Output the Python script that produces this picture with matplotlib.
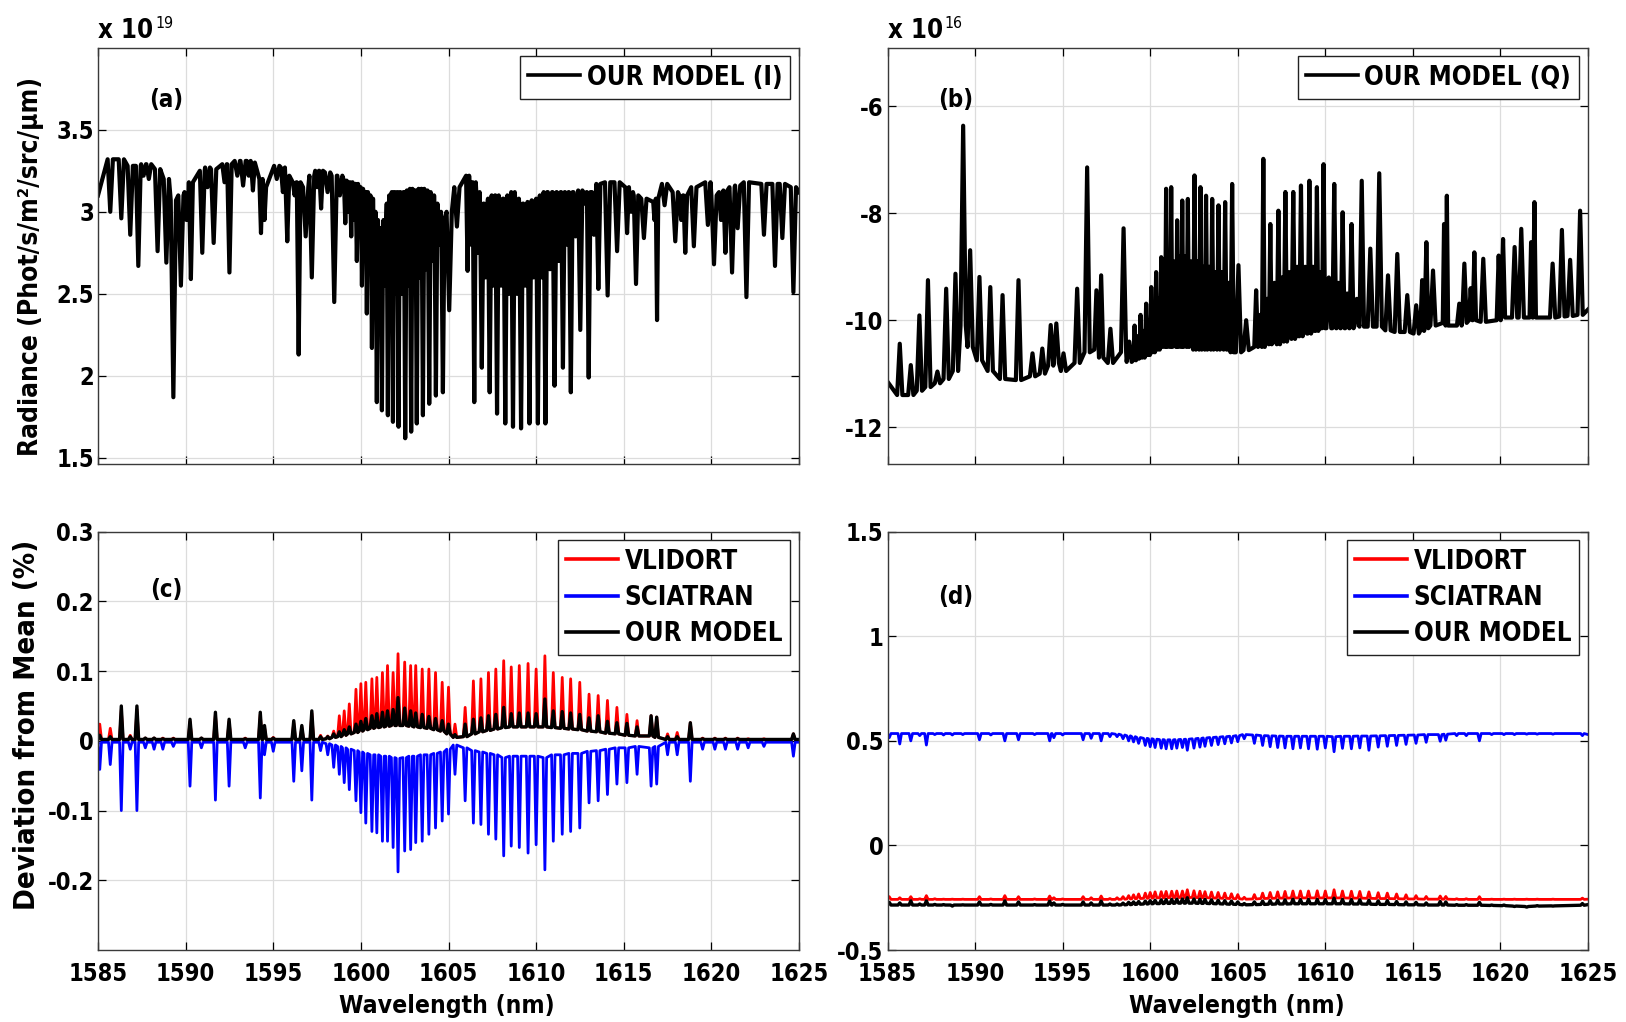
import matplotlib
matplotlib.use("Agg")
import matplotlib.pyplot as plt
from matplotlib import font_manager as fm
from matplotlib.font_manager import FontProperties

# ---------- font choice: a narrow bold sans like the original ----------
_names = {f.name for f in fm.fontManager.ttflist}
_cond = [f for f in fm.fontManager.ttflist
         if f.name == "DejaVu Sans" and "condensed" in str(f.stretch)]
if "Liberation Sans Narrow" in _names:
    FAM, STRETCH = "Liberation Sans Narrow", "normal"
elif _cond:
    FAM, STRETCH = "DejaVu Sans", "condensed"
elif "Liberation Sans" in _names:
    FAM, STRETCH = "Liberation Sans", "normal"
else:
    FAM, STRETCH = "DejaVu Sans", "normal"

plt.rcParams.update({
    "font.family": [FAM, "DejaVu Sans"],
    "font.stretch": STRETCH,
    "font.weight": "bold",
    "axes.labelweight": "bold",
})

# ---------------- data ----------------
WL_TICKS = [1585, 1590, 1595, 1600, 1605, 1610, 1615, 1620, 1625]

# Panel (a): radiance I (x 1e19); absorption lines: centre, minimum, local continuum
A_WL = [1585.70, 1586.33, 1586.84, 1587.30, 1587.60, 1587.90, 1588.40, 1588.90, 1589.30, 1589.73,
        1590.05, 1590.30, 1590.95, 1591.25, 1591.60, 1592.22, 1592.50, 1592.95, 1593.28, 1593.60,
        1593.84, 1594.30, 1594.50, 1595.20, 1595.55, 1595.80, 1596.22, 1596.45, 1596.85, 1597.20,
        1597.50, 1597.73, 1598.10, 1598.48,
        1598.80, 1599.11, 1599.28, 1599.45, 1599.61, 1599.77, 1599.92, 1600.06, 1600.20, 1600.34,
        1600.48, 1600.63, 1600.77, 1600.91, 1601.05, 1601.20, 1601.37, 1601.54, 1601.68, 1601.83,
        1601.99, 1602.15, 1602.34, 1602.53, 1602.70, 1602.87, 1603.03, 1603.19, 1603.37, 1603.54,
        1603.72, 1603.90, 1604.09, 1604.28, 1604.48, 1604.68, 1605.04, 1605.48,
        1606.09, 1606.28, 1606.47, 1606.68, 1606.90, 1607.12, 1607.35, 1607.56, 1607.77, 1608.00,
        1608.24, 1608.46, 1608.68, 1608.91, 1609.14, 1609.38, 1609.62, 1609.86, 1610.10, 1610.31,
        1610.53, 1610.79, 1611.05, 1611.29, 1611.53, 1611.75, 1611.98, 1612.25, 1612.52, 1612.78,
        1613.00, 1613.30, 1613.55, 1614.08, 1614.62, 1615.19, 1615.42, 1615.70, 1616.15, 1616.75,
        1616.90, 1617.33, 1617.94, 1618.28, 1618.51, 1619.00, 1619.80, 1620.15, 1620.55, 1620.80,
        1621.18, 1621.50, 1622.00, 1623.00, 1623.63, 1624.05, 1624.68]
A_MIN = [3.00, 2.96, 2.86, 2.67, 3.22, 3.20, 2.76, 2.69, 1.87, 2.55,
         2.95, 2.59, 2.75, 3.15, 2.81, 3.18, 2.63, 3.22, 3.16, 3.22,
         3.13, 2.87, 2.95, 3.20, 3.12, 2.82, 3.10, 2.13, 2.85, 2.60,
         3.15, 3.02, 3.12, 2.45,
         3.10, 2.93, 3.00, 2.85, 2.95, 2.70, 2.90, 2.55, 2.80, 2.38,
         2.75, 2.17, 2.70, 1.84, 2.60, 1.79, 2.55, 1.76, 2.55, 1.72,
         2.50, 1.69, 2.50, 1.62, 2.55, 1.66, 2.60, 1.71, 2.60, 1.76,
         2.65, 1.83, 2.70, 1.88, 2.80, 1.90, 2.40, 2.91,
         2.64, 2.80, 1.84, 2.75, 2.05, 2.60, 1.90, 2.55, 1.77, 2.55,
         1.71, 2.50, 1.69, 2.50, 1.68, 2.55, 1.71, 2.60, 1.71, 2.60,
         1.71, 2.65, 1.94, 2.70, 2.05, 2.80, 1.90, 2.85, 2.28, 3.05,
         1.99, 2.86, 2.53, 2.49, 2.76, 2.87, 3.00, 2.56, 2.84, 2.95,
         2.34, 3.04, 2.82, 2.95, 2.75, 2.79, 2.92, 2.68, 2.95, 2.75,
         2.63, 2.90, 2.48, 2.86, 2.67, 2.84, 2.51]
A_BASE = [3.32, 3.32, 3.28, 3.28, 3.29, 3.29, 3.26, 3.20, 3.07, 3.10,
          3.12, 3.18, 3.25, 3.27, 3.26, 3.29, 3.29, 3.31, 3.31, 3.31,
          3.30, 3.20, 3.15, 3.28, 3.27, 3.22, 3.18, 3.18, 3.15, 3.22,
          3.25, 3.25, 3.24, 3.22,
          3.22, 3.19, 3.18, 3.18, 3.17, 3.17, 3.15, 3.14, 3.12, 3.12,
          3.10, 3.08, 3.00, 2.95, 2.90, 2.90, 2.95, 3.05, 3.10, 3.12,
          3.12, 3.12, 3.12, 3.12, 3.13, 3.14, 3.13, 3.13, 3.14, 3.14,
          3.13, 3.12, 3.10, 3.05, 3.00, 2.95, 3.00, 3.15,
          3.22, 3.18, 3.18, 3.12, 3.05, 3.05, 3.08, 3.10, 3.10, 3.08,
          3.08, 3.10, 3.12, 3.08, 3.05, 3.05, 3.06, 3.07, 3.08, 3.10,
          3.12, 3.12, 3.12, 3.12, 3.12, 3.12, 3.12, 3.12, 3.13, 3.12,
          3.12, 3.12, 3.17, 3.18, 3.18, 3.15, 3.12, 3.10, 3.08, 3.06,
          3.08, 3.17, 3.12, 3.10, 3.10, 3.15, 3.18, 3.10, 3.12, 3.13,
          3.15, 3.16, 3.18, 3.17, 3.17, 3.17, 3.15]
A_START = (1585.0, 3.10)
A_END = (1625.0, 3.12)

# Panel (b): Q (x 1e16); lines: centre, peak, local continuum
B_WL = [1585.70, 1586.33, 1586.82, 1587.31, 1587.85, 1588.35, 1588.88, 1589.32, 1589.72, 1590.25,
        1590.87, 1591.57, 1592.48, 1593.28, 1593.84, 1594.32, 1594.64, 1595.05, 1595.83, 1596.40,
        1596.93, 1597.20, 1597.73, 1598.48,
        1598.80, 1599.11, 1599.28, 1599.45, 1599.61, 1599.77, 1599.92, 1600.06, 1600.20, 1600.34,
        1600.48, 1600.63, 1600.77, 1600.91, 1601.05, 1601.20, 1601.37, 1601.54, 1601.68, 1601.83,
        1601.99, 1602.15, 1602.34, 1602.53, 1602.70, 1602.87, 1603.03, 1603.19, 1603.37, 1603.54,
        1603.72, 1603.90, 1604.09, 1604.28, 1604.48, 1604.68, 1605.04, 1605.48,
        1606.05, 1606.28, 1606.46, 1606.68, 1606.86, 1607.10, 1607.32, 1607.52, 1607.72, 1607.95,
        1608.17, 1608.40, 1608.61, 1608.85, 1609.09, 1609.30, 1609.52, 1609.70, 1609.90, 1610.20,
        1610.51, 1610.75, 1610.99, 1611.25, 1611.50, 1611.80, 1612.08, 1612.57, 1613.08, 1613.58,
        1614.11, 1614.68, 1615.19, 1615.53, 1615.77, 1616.15, 1616.78, 1616.94, 1617.65, 1617.94,
        1618.30, 1618.51, 1619.02, 1619.90, 1620.15, 1620.81, 1621.19, 1621.75, 1621.94, 1622.98,
        1623.51, 1623.98, 1624.55]
B_PEAK = [-10.44, -10.84, -9.91, -9.25, -10.96, -9.41, -9.13, -6.36, -8.69, -9.19,
          -9.38, -9.53, -9.25, -10.62, -10.53, -10.09, -10.06, -10.62, -9.41, -7.14,
          -9.44, -9.16, -10.16, -8.28,
          -10.40, -10.10, -10.30, -9.90, -10.20, -9.69, -10.00, -9.38, -9.80, -9.10,
          -9.60, -8.82, -9.20, -7.54, -9.00, -7.51, -8.90, -8.13, -8.80, -7.76,
          -8.80, -7.73, -8.90, -7.29, -8.90, -7.51, -9.00, -7.67, -9.00, -7.73,
          -9.10, -7.85, -9.10, -7.79, -9.30, -7.45, -8.97, -10.00,
          -9.44, -9.90, -6.98, -9.60, -8.20, -9.30, -7.95, -9.20, -7.60, -9.10,
          -7.60, -9.00, -7.48, -9.00, -7.39, -9.00, -7.51, -9.10, -7.08, -9.20,
          -7.45, -9.30, -7.98, -9.50, -8.20, -9.60, -7.39, -8.66, -7.25, -9.16,
          -8.76, -9.53, -9.72, -9.25, -8.54, -9.07, -8.20, -7.67, -9.69, -8.94,
          -9.40, -8.73, -8.85, -8.79, -8.48, -8.63, -8.29, -8.54, -7.79, -8.94,
          -8.31, -8.87, -7.95]
B_BASE = [-11.40, -11.40, -11.32, -11.25, -11.18, -11.10, -10.95, -10.10, -10.50, -10.75,
          -10.95, -11.10, -11.12, -11.05, -11.00, -10.85, -10.80, -10.95, -10.80, -10.60,
          -10.55, -10.70, -10.80, -10.60,
          -10.78, -10.75, -10.72, -10.70, -10.70, -10.65, -10.65, -10.60, -10.60, -10.55,
          -10.55, -10.50, -10.45, -10.50, -10.40, -10.50, -10.40, -10.50, -10.40, -10.50,
          -10.45, -10.50, -10.45, -10.55, -10.50, -10.55, -10.50, -10.55, -10.50, -10.55,
          -10.50, -10.55, -10.50, -10.55, -10.55, -10.60, -10.60, -10.56,
          -10.50, -10.45, -10.50, -10.40, -10.45, -10.40, -10.45, -10.35, -10.40, -10.30,
          -10.35, -10.30, -10.30, -10.25, -10.25, -10.20, -10.20, -10.15, -10.15, -10.15,
          -10.15, -10.15, -10.15, -10.15, -10.15, -10.10, -10.12, -10.12, -10.12, -10.19,
          -10.22, -10.22, -10.25, -10.20, -10.15, -10.10, -10.05, -10.10, -10.10, -10.05,
          -10.00, -10.00, -10.03, -10.00, -9.95, -9.95, -9.95, -9.95, -9.95, -9.95,
          -9.93, -9.92, -9.90]
B_START = (1585.0, -11.15)
B_END = (1625.0, -9.80)

# Panels (c) and (d): common line positions
CD_WL = [1585.10, 1585.70, 1586.33, 1586.84, 1587.22, 1587.70, 1588.20, 1588.70, 1589.30, 1590.25,
         1590.90, 1591.70, 1592.48, 1593.40, 1594.26, 1594.50, 1595.00, 1596.17, 1596.63, 1597.20, 1597.70,
         1598.11, 1598.45, 1598.77, 1599.05, 1599.34, 1599.72, 1600.00, 1600.28, 1600.63, 1600.91,
         1601.23, 1601.52, 1601.84, 1602.12, 1602.50, 1602.84, 1603.13, 1603.50, 1603.88, 1604.26,
         1604.64, 1605.00, 1605.37,
         1605.95, 1606.42, 1606.85, 1607.28, 1607.70, 1608.15, 1608.58, 1609.04, 1609.54, 1610.00,
         1610.50, 1610.98, 1611.49, 1611.97, 1612.49, 1613.02, 1613.54, 1614.07, 1614.61, 1615.18,
         1615.76, 1616.56, 1616.88,
         1617.50, 1618.05, 1618.80, 1619.50, 1620.20, 1620.80, 1621.50, 1622.10, 1623.00, 1624.68]

# (c) deviation of I from the mean (%)
C_RED = [0.024, 0.018, 0.045, 0.008, 0.045, 0.004, 0.004, 0.004, 0.004, 0.028,
         0.004, 0.038, 0.028, 0.004, 0.038, 0.020, 0.005, 0.026, 0.020, 0.040, 0.008,
         0.007, 0.014, 0.036, 0.043, 0.053, 0.074, 0.082, 0.084, 0.089, 0.091,
         0.098, 0.108, 0.098, 0.125, 0.113, 0.108, 0.108, 0.103, 0.103, 0.098,
         0.084, 0.077, 0.024,
         0.048, 0.086, 0.089, 0.098, 0.103, 0.115, 0.106, 0.108, 0.111, 0.103,
         0.122, 0.098, 0.091, 0.089, 0.084, 0.067, 0.065, 0.058, 0.048, 0.038,
         0.029, 0.036, 0.034,
         0.010, 0.012, 0.026, 0.004, 0.004, 0.004, 0.004, 0.003, 0.003, 0.010]
C_RED_BASE = [0.002] * 21 + [
         0.003, 0.005, 0.006, 0.008, 0.010, 0.012, 0.014, 0.016, 0.018, 0.019,
         0.020, 0.021, 0.022, 0.022, 0.022, 0.021, 0.020, 0.019, 0.018, 0.016,
         0.014, 0.010, 0.005,
         0.006, 0.010, 0.013, 0.015, 0.017, 0.019, 0.020, 0.020, 0.020, 0.020,
         0.020, 0.019, 0.018, 0.017, 0.016, 0.014, 0.013, 0.011, 0.010, 0.008,
         0.007, 0.007, 0.005] + [0.002] * 10
C_BLUE = [-0.041, -0.034, -0.100, -0.012, -0.100, -0.010, -0.012, -0.012, -0.008, -0.065,
          -0.010, -0.085, -0.065, -0.010, -0.082, -0.020, -0.015, -0.058, -0.043, -0.085, -0.014,
          -0.020, -0.038, -0.048, -0.060, -0.070, -0.086, -0.103, -0.118, -0.130, -0.132,
          -0.144, -0.144, -0.153, -0.188, -0.158, -0.156, -0.146, -0.144, -0.134, -0.125,
          -0.115, -0.105, -0.048,
          -0.086, -0.118, -0.120, -0.134, -0.141, -0.165, -0.151, -0.153, -0.161, -0.149,
          -0.185, -0.144, -0.134, -0.130, -0.125, -0.089, -0.086, -0.077, -0.062, -0.060,
          -0.048, -0.065, -0.062,
          -0.020, -0.020, -0.058, -0.012, -0.012, -0.012, -0.012, -0.010, -0.008, -0.022]
C_BLUE_BASE = [-0.002] * 21 + [
          -0.004, -0.006, -0.008, -0.010, -0.012, -0.014, -0.016, -0.018, -0.020, -0.020,
          -0.022, -0.022, -0.024, -0.025, -0.024, -0.022, -0.022, -0.020, -0.020, -0.018,
          -0.016, -0.012, -0.006,
          -0.010, -0.014, -0.016, -0.018, -0.020, -0.024, -0.022, -0.022, -0.022, -0.022,
          -0.024, -0.020, -0.020, -0.018, -0.018, -0.015, -0.014, -0.012, -0.010, -0.010,
          -0.008, -0.010, -0.008] + [-0.002] * 10
C_BLACK = [0.008, 0.006, 0.050, 0.006, 0.050, 0.004, 0.004, 0.003, 0.003, 0.031,
           0.004, 0.041, 0.031, 0.003, 0.041, 0.022, 0.004, 0.029, 0.022, 0.043, 0.006,
           0.006, 0.010, 0.013, 0.016, 0.020, 0.024, 0.028, 0.032, 0.036, 0.039,
           0.041, 0.043, 0.045, 0.062, 0.047, 0.043, 0.040, 0.038, 0.035, 0.032,
           0.029, 0.024, 0.009,
           0.024, 0.031, 0.033, 0.036, 0.038, 0.048, 0.039, 0.040, 0.040, 0.039,
           0.060, 0.043, 0.042, 0.040, 0.038, 0.033, 0.036, 0.028, 0.026, 0.025,
           0.020, 0.036, 0.034,
           0.006, 0.006, 0.026, 0.003, 0.003, 0.003, 0.003, 0.002, 0.002, 0.010]
C_BLACK_BASE = [0.002] * 21 + [
           0.003, 0.005, 0.006, 0.008, 0.010, 0.012, 0.014, 0.016, 0.018, 0.019,
           0.020, 0.021, 0.022, 0.022, 0.022, 0.021, 0.020, 0.019, 0.018, 0.016,
           0.014, 0.010, 0.005,
           0.006, 0.010, 0.013, 0.015, 0.017, 0.019, 0.020, 0.020, 0.020, 0.020,
           0.020, 0.019, 0.018, 0.017, 0.016, 0.014, 0.013, 0.011, 0.010, 0.008,
           0.007, 0.007, 0.005] + [0.002] * 10
C_START = {"red": 0.003, "blue": -0.003, "black": 0.002}
C_END = {"red": 0.002, "blue": -0.002, "black": 0.002}

# (d) deviation of Q from the mean (%)
D_BLUE = [0.515, 0.485, 0.500, 0.525, 0.480, 0.530, 0.528, 0.528, 0.530, 0.505,
          0.528, 0.500, 0.505, 0.530, 0.500, 0.515, 0.528, 0.505, 0.512, 0.500, 0.520,
          0.520, 0.510, 0.500, 0.495, 0.488, 0.478, 0.472, 0.468, 0.465, 0.462,
          0.462, 0.465, 0.468, 0.455, 0.465, 0.470, 0.474, 0.478, 0.482, 0.486,
          0.490, 0.496, 0.510,
          0.488, 0.478, 0.472, 0.468, 0.466, 0.462, 0.466, 0.462, 0.460, 0.466,
          0.448, 0.464, 0.462, 0.466, 0.455, 0.470, 0.474, 0.478, 0.483, 0.488,
          0.493, 0.498, 0.503,
          0.525, 0.525, 0.500, 0.530, 0.530, 0.530, 0.532, 0.532, 0.532, 0.525]
D_BLUE_BASE = [0.535] * 21 + [
          0.532, 0.528, 0.524, 0.520, 0.516, 0.512, 0.510, 0.508, 0.506, 0.505,
          0.505, 0.506, 0.507, 0.508, 0.510, 0.512, 0.514, 0.516, 0.518, 0.520,
          0.522, 0.525, 0.530,
          0.528, 0.525, 0.524, 0.523, 0.522, 0.522, 0.522, 0.522, 0.522, 0.522,
          0.520, 0.522, 0.522, 0.523, 0.523, 0.524, 0.525, 0.526, 0.527, 0.528,
          0.530, 0.530, 0.532] + [0.535] * 10
D_RED = [-0.245, -0.250, -0.245, -0.255, -0.240, -0.255, -0.257, -0.257, -0.257, -0.245,
         -0.256, -0.240, -0.245, -0.256, -0.242, -0.250, -0.256, -0.245, -0.250, -0.242, -0.254,
         -0.250, -0.245, -0.240, -0.236, -0.232, -0.228, -0.225, -0.222, -0.221, -0.220,
         -0.219, -0.218, -0.218, -0.212, -0.217, -0.219, -0.221, -0.223, -0.225, -0.228,
         -0.231, -0.235, -0.248,
         -0.235, -0.228, -0.225, -0.222, -0.220, -0.218, -0.218, -0.218, -0.217, -0.218,
         -0.212, -0.218, -0.219, -0.220, -0.222, -0.226, -0.228, -0.232, -0.236, -0.240,
         -0.244, -0.242, -0.244,
         -0.255, -0.255, -0.245, -0.257, -0.257, -0.257, -0.257, -0.257, -0.257, -0.252]
D_RED_BASE = [-0.258] * 21 + [
         -0.258, -0.257, -0.256, -0.255, -0.254, -0.253, -0.252, -0.251, -0.250, -0.250,
         -0.249, -0.249, -0.249, -0.249, -0.249, -0.250, -0.250, -0.251, -0.252, -0.253,
         -0.254, -0.255, -0.257,
         -0.256, -0.254, -0.253, -0.252, -0.252, -0.251, -0.251, -0.251, -0.251, -0.251,
         -0.251, -0.251, -0.252, -0.252, -0.253, -0.254, -0.254, -0.255, -0.256, -0.256,
         -0.257, -0.257, -0.257] + [-0.258] * 10
D_BLACK = [-0.272, -0.275, -0.265, -0.280, -0.265, -0.282, -0.283, -0.290, -0.284, -0.270,
           -0.282, -0.265, -0.270, -0.283, -0.266, -0.275, -0.282, -0.270, -0.275, -0.266, -0.280,
           -0.280, -0.276, -0.272, -0.270, -0.268, -0.266, -0.264, -0.262, -0.260, -0.259,
           -0.258, -0.257, -0.256, -0.250, -0.256, -0.257, -0.258, -0.260, -0.262, -0.264,
           -0.266, -0.270, -0.278,
           -0.270, -0.266, -0.264, -0.262, -0.260, -0.257, -0.259, -0.258, -0.258, -0.259,
           -0.252, -0.258, -0.259, -0.260, -0.262, -0.265, -0.264, -0.268, -0.270, -0.272,
           -0.275, -0.268, -0.270,
           -0.283, -0.283, -0.272, -0.285, -0.285, -0.292, -0.295, -0.288, -0.290, -0.278]
D_BLACK_BASE = [-0.285] * 21 + [
           -0.285, -0.284, -0.283, -0.282, -0.281, -0.280, -0.279, -0.278, -0.278, -0.277,
           -0.277, -0.276, -0.276, -0.276, -0.276, -0.277, -0.277, -0.278, -0.279, -0.280,
           -0.281, -0.282, -0.284,
           -0.283, -0.282, -0.281, -0.280, -0.280, -0.279, -0.279, -0.279, -0.279, -0.279,
           -0.279, -0.279, -0.280, -0.280, -0.281, -0.282, -0.282, -0.283, -0.284, -0.284,
           -0.285, -0.285, -0.285] + [
           -0.286, -0.286, -0.286, -0.287, -0.288, -0.290, -0.292, -0.290, -0.289, -0.286]
D_START = {"red": -0.256, "blue": 0.530, "black": -0.280}
D_END = {"red": -0.257, "blue": 0.530, "black": -0.283}

for _arrs in ((A_WL, A_MIN, A_BASE), (B_WL, B_PEAK, B_BASE),
              (CD_WL, C_RED, C_RED_BASE, C_BLUE, C_BLUE_BASE, C_BLACK, C_BLACK_BASE,
               D_RED, D_RED_BASE, D_BLUE, D_BLUE_BASE, D_BLACK, D_BLACK_BASE)):
    assert len({len(a) for a in _arrs}) == 1, [len(a) for a in _arrs]


def trace(wl, peak, base, hw_max, start, end):
    """Polyline through read-off points: shoulder, extremum, shoulder for each line."""
    xs, ys = [start[0]], [start[1]]
    n = len(wl)
    for i, (w, p, b) in enumerate(zip(wl, peak, base)):
        gl = w - wl[i - 1] if i > 0 else 1.0
        gr = wl[i + 1] - w if i < n - 1 else 1.0
        hw = min(hw_max, 0.46 * min(gl, gr))
        xs += [w - hw, w, w + hw]
        ys += [b, p, b]
    xs.append(end[0])
    ys.append(end[1])
    return xs, ys


def fmt(v):
    if abs(v) < 1e-9:
        v = 0.0
    return "%g" % v


# ---------------- figure ----------------
fig = plt.figure(figsize=(16.26, 10.22), dpi=100)
W, H = 1626.0, 1022.0
renderer = fig.canvas.get_renderer()


def fit(s, target_px):
    """Font size (pt) that makes string s about target_px wide."""
    prop = FontProperties(family=[FAM, "DejaVu Sans"], weight="bold", stretch=STRETCH, size=20)
    w, _, _ = renderer.get_text_width_height_descent(s, prop, ismath=False)
    return 20.0 * target_px / w


TICK_FS = fit("1585", 59)
XLAB_FS = fit("Wavelength (nm)", 216)
YLAB_A_FS = fit("Radiance (Phot/s/m²/src/µm)", 378)
YLAB_C_FS = fit("Deviation from Mean (%)", 371)
LEG_FS = fit("OUR MODEL (I)", 195)
PAN_FS = fit("(a)", 34)
EXP_FS = fit("x 10", 55)

ax_a = fig.add_axes([98 / W, 1 - 464.5 / H, 701 / W, 416.8 / H])
ax_b = fig.add_axes([887.5 / W, 1 - 464.5 / H, 700.5 / W, 416.8 / H])
ax_c = fig.add_axes([98 / W, 1 - 950 / H, 701 / W, 418.3 / H])
ax_d = fig.add_axes([887.5 / W, 1 - 950 / H, 700.5 / W, 418.3 / H])

for ax in (ax_a, ax_b, ax_c, ax_d):
    ax.set_xlim(1585, 1625)
    ax.set_xticks(WL_TICKS)
    ax.grid(True, color="#dcdcdc", lw=0.9)
    ax.set_axisbelow(True)
    ax.tick_params(direction="in", length=6, width=0.9, top=True, right=True,
                   labelsize=TICK_FS, colors="k")
    ax.tick_params(axis="y", pad=3)
    ax.tick_params(axis="x", pad=8.5)
    for s in ax.spines.values():
        s.set_color("#3a3a3a")
        s.set_linewidth(1.0)


def exponent(ax, power):
    y = 1.023
    t = ax.text(0.0, y, "x 10", transform=ax.transAxes, fontsize=EXP_FS,
                ha="left", va="baseline")
    prop = t.get_fontproperties()
    w, _, _ = renderer.get_text_width_height_descent("x 10", prop, ismath=False)
    axw = ax.get_position().width * W
    axh = ax.get_position().height * H
    ax.text(w / axw + 0.003, y + 10.0 / axh, power, transform=ax.transAxes,
            fontsize=EXP_FS * 0.62, ha="left", va="baseline", fontweight="normal")


# (a)
xa, ya = trace(A_WL, A_MIN, A_BASE, 0.15, A_START, A_END)
ax_a.plot(xa, ya, color="k", lw=3.0, label="OUR MODEL (I)")
ax_a.set_ylim(1.46, 4.0)
a_ticks = [1.5, 2, 2.5, 3, 3.5]
ax_a.set_yticks(a_ticks, labels=[fmt(v) for v in a_ticks])
ax_a.tick_params(axis="x", labelbottom=False)
ax_a.set_ylabel("Radiance (Phot/s/m²/src/µm)", fontsize=YLAB_A_FS)
ax_a.yaxis.label.set_verticalalignment("center")
ax_a.yaxis.set_label_coords(-0.0956, 0.474)
ax_a.text(1588.9, 3.68, "(a)", fontsize=PAN_FS, ha="center", va="center")
exponent(ax_a, "19")

# (b)
xb, yb = trace(B_WL, B_PEAK, B_BASE, 0.15, B_START, B_END)
ax_b.plot(xb, yb, color="k", lw=3.0, label="OUR MODEL (Q)")
ax_b.set_ylim(-12.7, -4.9)
b_ticks = [-12, -10, -8, -6]
ax_b.set_yticks(b_ticks, labels=[fmt(v) for v in b_ticks])
ax_b.tick_params(axis="x", labelbottom=False)
ax_b.text(1588.9, -5.875, "(b)", fontsize=PAN_FS, ha="center", va="center")
exponent(ax_b, "16")

# (c)
HW_CD = 0.10
xr, yr = trace(CD_WL, C_RED, C_RED_BASE, HW_CD, (1585.0, C_START["red"]), (1625.0, C_END["red"]))
xbl, ybl = trace(CD_WL, C_BLUE, C_BLUE_BASE, HW_CD, (1585.0, C_START["blue"]), (1625.0, C_END["blue"]))
xk, yk = trace(CD_WL, C_BLACK, C_BLACK_BASE, HW_CD, (1585.0, C_START["black"]), (1625.0, C_END["black"]))
ax_c.plot(xr, yr, color="#ff0000", lw=2.0, label="VLIDORT")
ax_c.plot(xbl, ybl, color="#0000ff", lw=2.0, label="SCIATRAN")
ax_c.plot(xk, yk, color="k", lw=2.4, label="OUR MODEL")
ax_c.set_ylim(-0.3, 0.3)
c_ticks = [-0.2, -0.1, 0, 0.1, 0.2, 0.3]
ax_c.set_yticks(c_ticks, labels=[fmt(v) for v in c_ticks])
ax_c.set_xticks(WL_TICKS, labels=[str(v) for v in WL_TICKS])
ax_c.set_xlabel("Wavelength (nm)", fontsize=XLAB_FS)
ax_c.xaxis.label.set_verticalalignment("center")
ax_c.xaxis.set_label_coords(0.498, -0.134)
ax_c.set_ylabel("Deviation from Mean (%)", fontsize=YLAB_C_FS)
ax_c.yaxis.label.set_verticalalignment("center")
ax_c.yaxis.set_label_coords(-0.101, 0.538)
ax_c.text(1588.9, 0.216, "(c)", fontsize=PAN_FS, ha="center", va="center")

# (d)
xr, yr = trace(CD_WL, D_RED, D_RED_BASE, HW_CD, (1585.0, D_START["red"]), (1625.0, D_END["red"]))
xbl, ybl = trace(CD_WL, D_BLUE, D_BLUE_BASE, HW_CD, (1585.0, D_START["blue"]), (1625.0, D_END["blue"]))
xk, yk = trace(CD_WL, D_BLACK, D_BLACK_BASE, HW_CD, (1585.0, D_START["black"]), (1625.0, D_END["black"]))
ax_d.plot(xr, yr, color="#ff0000", lw=2.0, label="VLIDORT")
ax_d.plot(xbl, ybl, color="#0000ff", lw=2.0, label="SCIATRAN")
ax_d.plot(xk, yk, color="k", lw=2.4, label="OUR MODEL")
ax_d.set_ylim(-0.5, 1.5)
d_ticks = [-0.5, 0, 0.5, 1, 1.5]
ax_d.set_yticks(d_ticks, labels=[fmt(v) for v in d_ticks])
ax_d.set_xticks(WL_TICKS, labels=[str(v) for v in WL_TICKS])
ax_d.set_xlabel("Wavelength (nm)", fontsize=XLAB_FS)
ax_d.xaxis.label.set_verticalalignment("center")
ax_d.xaxis.set_label_coords(0.498, -0.134)
ax_d.text(1588.9, 1.19, "(d)", fontsize=PAN_FS, ha="center", va="center")

for ax in (ax_a, ax_b, ax_c, ax_d):
    leg = ax.legend(loc="upper right", fontsize=LEG_FS, frameon=True, fancybox=False,
                    edgecolor="#222222", framealpha=1.0, handlelength=2.0,
                    handletextpad=0.25, borderpad=0.32, borderaxespad=0.33,
                    labelspacing=0.4)
    leg.get_frame().set_linewidth(1.0)
    for ln in leg.get_lines():
        ln.set_linewidth(2.6)

fig.savefig("out.png", dpi=100)
